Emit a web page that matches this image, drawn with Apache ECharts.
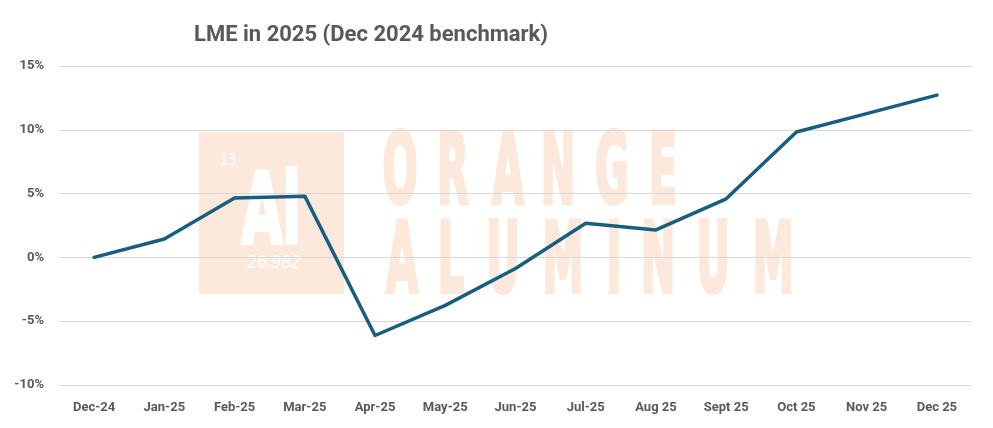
<!DOCTYPE html>
<html>
<head>
<meta charset="utf-8">
<script src="https://cdn.jsdelivr.net/npm/echarts@6/dist/echarts.min.js"></script>
<style>html,body{margin:0;padding:0;background:#fff;}#c{width:993px;height:428px;}</style>
</head>
<body>
<div id="c"></div>
<script>
const categories = ['Dec-24','Jan-25','Feb-25','Mar-25','Apr-25','May-25','Jun-25','Jul-25','Aug 25','Sept 25','Oct 25','Nov 25','Dec 25'];
const lmeChange = [0, 1.44, 4.65, 4.80, -6.12, -3.76, -0.87, 2.68, 2.15, 4.59, 9.83, 11.27, 12.72];
const yTicks = [-10, -5, 0, 5, 10, 15];

const chart = echarts.init(document.getElementById('c'), null, {renderer: 'canvas'});
const wmColor = '#fce9dc';
const wmFont = '"Liberation Sans Narrow", "DejaVu Sans Condensed", sans-serif';
function letter(ch, cx, top, color, sx) {
  return {
    type: 'text', z: -10, x: cx, y: top, scaleX: sx, silent: true,
    style: { text: ch, fill: color, stroke: color, lineWidth: 4, font: 'bold 98px ' + wmFont, textAlign: 'center', textVerticalAlign: 'top' }
  };
}
const orange = [['O',400],['R',453],['A',508],['N',558],['G',612],['E',663]];
const alum = [['A',402],['L',451],['U',503],['M',563],['I',614],['N',658],['U',713],['M',773]];
const graphics = [
  { type: 'rect', z: -11, silent: true, shape: { x: 199, y: 132, width: 145, height: 162 }, style: { fill: wmColor } },
  { type: 'text', z: -10, silent: true, x: 228, y: 161, style: { text: '13', fill: '#fff', font: '15px ' + wmFont, textAlign: 'center', textVerticalAlign: 'middle' } },
  { type: 'text', z: -10, silent: true, x: 274, y: 264, style: { text: '26.982', fill: '#fff', font: 'italic 17px ' + wmFont, textAlign: 'center', textVerticalAlign: 'middle' } },
  letter('Al', 271, 169, '#fff', 0.6)
];
orange.forEach(([c, x]) => graphics.push(letter(c, x, 129, wmColor, 0.47)));
alum.forEach(([c, x]) => graphics.push(letter(c, x, 218, wmColor, 0.47)));

chart.setOption({
  animation: false,
  backgroundColor: '#ffffff',
  title: {
    text: 'LME in 2025 (Dec 2024 benchmark)',
    left: 189, top: 19,
    textStyle: { fontFamily: 'Roboto, "Liberation Sans", sans-serif', fontWeight: 'bold', fontSize: 22, color: '#595959' }
  },
  graphic: graphics,
  grid: { left: 59, right: 21, top: 66, bottom: 43, containLabel: false },
  xAxis: {
    type: 'category', data: categories, boundaryGap: true,
    axisLine: { show: false }, axisTick: { show: false },
    axisLabel: { color: '#595959', fontWeight: 'bold', fontSize: 13, fontFamily: 'Roboto, "Liberation Sans", sans-serif', margin: 16, interval: 0 }
  },
  yAxis: {
    type: 'value', min: -10, max: 15, interval: 5,
    axisLine: { show: false }, axisTick: { show: false },
    splitLine: { lineStyle: { color: '#d9d9d9', width: 1 } },
    axisLabel: { color: '#595959', fontWeight: 'bold', fontSize: 13, fontFamily: 'Roboto, "Liberation Sans", sans-serif', margin: 15,
      formatter: v => yTicks.includes(v) ? v + '%' : '' }
  },
  series: [{
    type: 'line', data: lmeChange, symbol: 'none', smooth: false, z: 5,
    lineStyle: { color: '#175e7f', width: 3.5, cap: 'round', join: 'round' }
  }]
});
</script>
</body>
</html>
